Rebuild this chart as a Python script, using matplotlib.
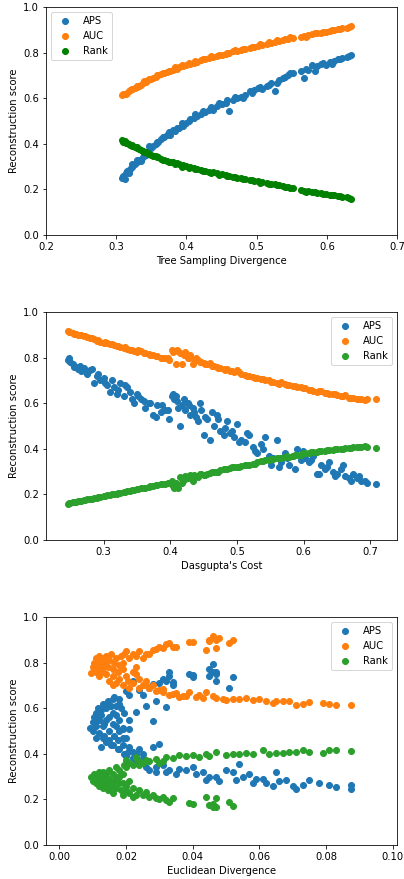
import matplotlib
matplotlib.use("Agg")
import matplotlib.pyplot as plt

# ---- panel 1: Tree Sampling Divergence ----
tsd = [0.308, 0.310, 0.312, 0.315, 0.318, 0.320, 0.323, 0.326, 0.329, 0.332, 0.335,
       0.338, 0.342, 0.345, 0.349, 0.352, 0.356, 0.360, 0.364, 0.368, 0.372, 0.377,
       0.381, 0.386, 0.390, 0.395, 0.400, 0.405, 0.410, 0.415, 0.421, 0.426, 0.432,
       0.438, 0.444, 0.450, 0.456, 0.460, 0.466, 0.472, 0.478, 0.484, 0.490, 0.496,
       0.502, 0.508, 0.514, 0.520, 0.526, 0.532, 0.538, 0.545, 0.551, 0.563, 0.567,
       0.573, 0.579, 0.586, 0.592, 0.598, 0.604, 0.610, 0.616, 0.622, 0.628, 0.634,
       0.314, 0.322, 0.330, 0.340, 0.347, 0.358, 0.366, 0.375, 0.384, 0.393,
       0.403, 0.412, 0.424, 0.435, 0.447, 0.458, 0.469, 0.481, 0.493, 0.505,
       0.517, 0.529, 0.541, 0.548, 0.570, 0.583, 0.595, 0.607, 0.619, 0.631]
tsd_aps = [0.25, 0.26, 0.245, 0.28, 0.27, 0.29, 0.30, 0.31, 0.32, 0.33, 0.325,
           0.34, 0.35, 0.37, 0.38, 0.39, 0.40, 0.41, 0.42, 0.43, 0.44, 0.44,
           0.46, 0.47, 0.47, 0.48, 0.49, 0.51, 0.515, 0.52, 0.53, 0.54, 0.55,
           0.55, 0.565, 0.575, 0.58, 0.545, 0.59, 0.60, 0.605, 0.615, 0.63, 0.635,
           0.645, 0.64, 0.655, 0.665, 0.63, 0.68, 0.69, 0.70, 0.71, 0.72, 0.69,
           0.725, 0.745, 0.74, 0.75, 0.745, 0.76, 0.765, 0.77, 0.775, 0.78, 0.79,
           0.27, 0.31, 0.33, 0.36, 0.39, 0.41, 0.43, 0.45, 0.455, 0.49,
           0.50, 0.53, 0.545, 0.56, 0.58, 0.59, 0.605, 0.60, 0.625, 0.65,
           0.66, 0.665, 0.695, 0.71, 0.73, 0.72, 0.755, 0.75, 0.77, 0.785]
tsd_auc = [0.615, 0.62, 0.618, 0.625, 0.63, 0.635, 0.64, 0.645, 0.65, 0.655, 0.66,
           0.665, 0.672, 0.678, 0.683, 0.688, 0.693, 0.70, 0.705, 0.71, 0.716, 0.72,
           0.725, 0.73, 0.738, 0.742, 0.746, 0.75, 0.755, 0.76, 0.766, 0.77, 0.776,
           0.78, 0.785, 0.79, 0.795, 0.80, 0.805, 0.808, 0.812, 0.818, 0.822, 0.826,
           0.83, 0.835, 0.838, 0.842, 0.846, 0.85, 0.855, 0.858, 0.862, 0.868, 0.872,
           0.876, 0.88, 0.884, 0.888, 0.892, 0.896, 0.90, 0.903, 0.906, 0.91, 0.915,
           0.62, 0.64, 0.655, 0.675, 0.685, 0.70, 0.71, 0.72, 0.735, 0.745,
           0.755, 0.765, 0.77, 0.785, 0.79, 0.80, 0.81, 0.815, 0.825, 0.84,
           0.845, 0.855, 0.86, 0.87, 0.87, 0.885, 0.89, 0.90, 0.905, 0.912]
tsd_rank = [0.415, 0.41, 0.412, 0.405, 0.40, 0.395, 0.39, 0.385, 0.38, 0.378, 0.372,
            0.368, 0.362, 0.358, 0.352, 0.348, 0.345, 0.34, 0.335, 0.33, 0.325, 0.322,
            0.318, 0.314, 0.31, 0.306, 0.302, 0.298, 0.295, 0.29, 0.286, 0.282, 0.278,
            0.275, 0.27, 0.266, 0.262, 0.26, 0.256, 0.252, 0.25, 0.246, 0.242, 0.238,
            0.235, 0.232, 0.228, 0.225, 0.222, 0.218, 0.215, 0.21, 0.205, 0.198, 0.195,
            0.192, 0.19, 0.186, 0.183, 0.18, 0.177, 0.174, 0.171, 0.168, 0.165, 0.16,
            0.405, 0.395, 0.385, 0.365, 0.355, 0.34, 0.33, 0.32, 0.31, 0.30,
            0.296, 0.29, 0.28, 0.272, 0.264, 0.258, 0.254, 0.245, 0.24, 0.23,
            0.225, 0.22, 0.212, 0.208, 0.19, 0.187, 0.18, 0.175, 0.17, 0.162]

# ---- panel 2: Dasgupta's Cost ----
dasg = [0.246, 0.250, 0.254, 0.258, 0.262, 0.266, 0.270, 0.275, 0.280, 0.285, 0.290,
        0.295, 0.300, 0.305, 0.310, 0.315, 0.320, 0.325, 0.330, 0.335, 0.340, 0.345,
        0.350, 0.356, 0.362, 0.368, 0.374, 0.380, 0.386, 0.392, 0.398, 0.402, 0.406,
        0.410, 0.414, 0.418, 0.422, 0.426, 0.430, 0.434, 0.438, 0.442, 0.446, 0.450,
        0.455, 0.460, 0.465, 0.470, 0.475, 0.480, 0.485, 0.490, 0.495, 0.500, 0.506,
        0.512, 0.518, 0.524, 0.530, 0.536, 0.542, 0.548, 0.554, 0.560, 0.566, 0.572,
        0.578, 0.584, 0.590, 0.596, 0.602, 0.608, 0.614, 0.620, 0.626, 0.632, 0.638,
        0.644, 0.650, 0.656, 0.662, 0.668, 0.674, 0.680, 0.686, 0.692, 0.708,
        0.248, 0.256, 0.264, 0.272, 0.282, 0.292, 0.302, 0.312, 0.322, 0.332,
        0.342, 0.352, 0.360, 0.370, 0.378, 0.388, 0.396, 0.404, 0.408, 0.412,
        0.420, 0.428, 0.436, 0.444, 0.452, 0.462, 0.472, 0.482, 0.492, 0.503,
        0.515, 0.527, 0.539, 0.551, 0.563, 0.575, 0.587, 0.599, 0.611, 0.623,
        0.635, 0.647, 0.659, 0.671, 0.683, 0.695]
dasg_aps = [0.79, 0.78, 0.77, 0.76, 0.75, 0.74, 0.755, 0.73, 0.745, 0.69, 0.72,
            0.70, 0.71, 0.68, 0.65, 0.67, 0.64, 0.69, 0.63, 0.67, 0.65, 0.60,
            0.64, 0.62, 0.58, 0.60, 0.55, 0.59, 0.56, 0.57, 0.53, 0.63, 0.62,
            0.61, 0.50, 0.59, 0.57, 0.60, 0.55, 0.58, 0.54, 0.52, 0.57, 0.46,
            0.53, 0.44, 0.50, 0.55, 0.48, 0.46, 0.52, 0.47, 0.45, 0.51, 0.44,
            0.43, 0.46, 0.41, 0.38, 0.42, 0.45, 0.37, 0.36, 0.44, 0.34, 0.38,
            0.33, 0.37, 0.40, 0.35, 0.36, 0.34, 0.37, 0.29, 0.33, 0.31, 0.34,
            0.30, 0.29, 0.31, 0.28, 0.27, 0.29, 0.27, 0.26, 0.26, 0.245,
            0.80, 0.76, 0.765, 0.74, 0.75, 0.73, 0.69, 0.70, 0.66, 0.68,
            0.62, 0.63, 0.61, 0.60, 0.54, 0.59, 0.57, 0.64, 0.63, 0.58,
            0.62, 0.59, 0.56, 0.60, 0.54, 0.56, 0.53, 0.49, 0.48, 0.43,
            0.47, 0.39, 0.40, 0.33, 0.32, 0.36, 0.31, 0.39, 0.35, 0.29,
            0.32, 0.28, 0.33, 0.26, 0.28, 0.25]
dasg_auc = [0.915, 0.912, 0.91, 0.905, 0.90, 0.90, 0.895, 0.89, 0.885, 0.88, 0.875,
            0.87, 0.865, 0.862, 0.86, 0.855, 0.85, 0.847, 0.842, 0.838, 0.835, 0.83,
            0.825, 0.83, 0.82, 0.815, 0.81, 0.805, 0.80, 0.80, 0.79, 0.835, 0.83,
            0.835, 0.82, 0.77, 0.825, 0.80, 0.81, 0.77, 0.80, 0.79, 0.78, 0.775,
            0.77, 0.775, 0.765, 0.76, 0.755, 0.75, 0.75, 0.74, 0.735, 0.745, 0.73,
            0.725, 0.72, 0.715, 0.71, 0.705, 0.70, 0.70, 0.695, 0.69, 0.695, 0.685,
            0.68, 0.675, 0.67, 0.67, 0.665, 0.66, 0.655, 0.65, 0.655, 0.645, 0.64,
            0.64, 0.635, 0.63, 0.635, 0.625, 0.625, 0.62, 0.62, 0.615, 0.617,
            0.912, 0.905, 0.90, 0.895, 0.888, 0.878, 0.868, 0.86, 0.852, 0.845,
            0.835, 0.832, 0.822, 0.812, 0.808, 0.80, 0.797, 0.825, 0.77, 0.83,
            0.81, 0.80, 0.795, 0.78, 0.77, 0.765, 0.755, 0.745, 0.74, 0.735,
            0.72, 0.71, 0.705, 0.695, 0.685, 0.68, 0.675, 0.665, 0.66, 0.655,
            0.645, 0.64, 0.63, 0.625, 0.62, 0.62]
dasg_rank = [0.16, 0.162, 0.165, 0.168, 0.17, 0.172, 0.175, 0.178, 0.18, 0.183, 0.186,
             0.19, 0.192, 0.196, 0.198, 0.20, 0.203, 0.206, 0.21, 0.213, 0.216, 0.22,
             0.222, 0.226, 0.23, 0.233, 0.236, 0.24, 0.244, 0.247, 0.25, 0.26, 0.23,
             0.24, 0.275, 0.25, 0.28, 0.27, 0.285, 0.26, 0.28, 0.275, 0.29, 0.285,
             0.29, 0.295, 0.30, 0.298, 0.305, 0.31, 0.312, 0.315, 0.318, 0.32, 0.325,
             0.328, 0.33, 0.335, 0.34, 0.345, 0.35, 0.35, 0.355, 0.36, 0.36, 0.365,
             0.365, 0.37, 0.375, 0.372, 0.38, 0.383, 0.385, 0.388, 0.39, 0.392, 0.395,
             0.395, 0.40, 0.398, 0.403, 0.405, 0.408, 0.41, 0.41, 0.412, 0.405,
             0.161, 0.166, 0.17, 0.176, 0.18, 0.188, 0.194, 0.20, 0.206, 0.212,
             0.218, 0.224, 0.23, 0.235, 0.24, 0.245, 0.25, 0.235, 0.25, 0.23,
             0.265, 0.28, 0.285, 0.29, 0.285, 0.30, 0.30, 0.31, 0.318, 0.322,
             0.33, 0.335, 0.345, 0.355, 0.36, 0.37, 0.375, 0.38, 0.385, 0.39,
             0.395, 0.40, 0.40, 0.405, 0.41, 0.41]

# ---- panel 3: Euclidean Divergence ----
euc_aps_x = [0.0092, 0.010, 0.0105, 0.011, 0.011, 0.0115, 0.012, 0.012, 0.0125, 0.013,
             0.013, 0.0135, 0.014, 0.014, 0.0145, 0.015, 0.015, 0.0155, 0.016, 0.016,
             0.0165, 0.017, 0.017, 0.0175, 0.018, 0.018, 0.0185, 0.019, 0.019, 0.0195,
             0.020, 0.020, 0.021, 0.021, 0.022, 0.022, 0.023, 0.0125, 0.0165, 0.011,
             0.015, 0.018, 0.0195, 0.021, 0.024, 0.025, 0.024,
             0.020, 0.022, 0.024, 0.028, 0.031, 0.033, 0.034, 0.032, 0.029, 0.026,
             0.023, 0.028, 0.019, 0.039, 0.040, 0.045, 0.046, 0.047, 0.047, 0.051, 0.052,
             0.025, 0.030, 0.028, 0.029, 0.032, 0.036, 0.040, 0.043, 0.044, 0.047,
             0.050, 0.053, 0.054, 0.057, 0.059, 0.062, 0.065, 0.068, 0.071, 0.073,
             0.075, 0.078, 0.081, 0.083, 0.0875, 0.0875]
euc_aps = [0.515, 0.54, 0.56, 0.58, 0.52, 0.60, 0.55, 0.49, 0.57, 0.62,
           0.47, 0.53, 0.60, 0.45, 0.63, 0.56, 0.50, 0.44, 0.64, 0.58,
           0.48, 0.61, 0.52, 0.46, 0.55, 0.42, 0.60, 0.44, 0.51, 0.40,
           0.47, 0.39, 0.43, 0.55, 0.38, 0.41, 0.37, 0.43, 0.65, 0.47,
           0.61, 0.64, 0.58, 0.51, 0.42, 0.40, 0.36,
           0.677, 0.72, 0.68, 0.706, 0.728, 0.757, 0.713, 0.604, 0.633, 0.611,
           0.582, 0.546, 0.514, 0.75, 0.735, 0.771, 0.793, 0.757, 0.72, 0.69, 0.738,
           0.38, 0.444, 0.43, 0.342, 0.32, 0.335, 0.342, 0.32, 0.284, 0.298,
           0.328, 0.284, 0.357, 0.313, 0.291, 0.27, 0.32, 0.284, 0.247, 0.262,
           0.284, 0.272, 0.262, 0.255, 0.262, 0.247]
euc_aps_x2 = [0.010, 0.0115, 0.0125, 0.0135, 0.014, 0.0155, 0.016, 0.017, 0.0175, 0.019,
              0.0205, 0.015, 0.013, 0.016, 0.018, 0.023, 0.026, 0.027, 0.029, 0.031,
              0.033, 0.035, 0.038, 0.041, 0.045, 0.048, 0.052, 0.055, 0.058, 0.061,
              0.064, 0.066, 0.070, 0.025, 0.027, 0.030, 0.032, 0.033, 0.034, 0.040,
              0.046, 0.045, 0.047, 0.021, 0.018]
euc_aps2 = [0.50, 0.55, 0.59, 0.48, 0.55, 0.61, 0.53, 0.57, 0.42, 0.47,
            0.41, 0.46, 0.52, 0.44, 0.50, 0.40, 0.34, 0.33, 0.32, 0.35,
            0.33, 0.31, 0.33, 0.31, 0.30, 0.28, 0.32, 0.30, 0.27, 0.29,
            0.26, 0.28, 0.26, 0.66, 0.69, 0.71, 0.72, 0.74, 0.70, 0.745,
            0.76, 0.74, 0.75, 0.66, 0.62]

euc_auc_x = [0.0095, 0.010, 0.0105, 0.011, 0.011, 0.0115, 0.012, 0.012, 0.0125, 0.013,
             0.013, 0.0135, 0.014, 0.014, 0.0145, 0.015, 0.015, 0.0155, 0.016, 0.016,
             0.0165, 0.017, 0.017, 0.0175, 0.018, 0.018, 0.0185, 0.019, 0.019, 0.0195,
             0.020, 0.020, 0.0205, 0.021, 0.021, 0.022, 0.022, 0.023, 0.023, 0.024,
             0.024, 0.025, 0.025, 0.012, 0.016,
             0.027, 0.029, 0.032, 0.034, 0.039, 0.040, 0.044, 0.045, 0.046, 0.048,
             0.047, 0.051, 0.052,
             0.026, 0.029, 0.031, 0.034, 0.037, 0.039, 0.044, 0.047, 0.052, 0.056,
             0.058, 0.062, 0.065, 0.069, 0.073, 0.075, 0.079, 0.081, 0.083, 0.0875]
euc_auc = [0.755, 0.78, 0.80, 0.76, 0.79, 0.81, 0.77, 0.74, 0.80, 0.82,
           0.76, 0.79, 0.83, 0.75, 0.78, 0.81, 0.72, 0.84, 0.77, 0.74,
           0.80, 0.82, 0.71, 0.76, 0.79, 0.73, 0.83, 0.70, 0.77, 0.84,
           0.74, 0.85, 0.72, 0.82, 0.69, 0.84, 0.71, 0.75, 0.83, 0.69,
           0.73, 0.70, 0.82, 0.83, 0.70,
           0.84, 0.86, 0.88, 0.87, 0.89, 0.89, 0.855, 0.90, 0.917, 0.91,
           0.863, 0.884, 0.90,
           0.70, 0.677, 0.684, 0.662, 0.655, 0.67, 0.67, 0.645, 0.64, 0.645,
           0.636, 0.633, 0.633, 0.633, 0.62, 0.626, 0.622, 0.62, 0.616, 0.616]
euc_auc_x2 = [0.026, 0.027, 0.028, 0.030, 0.031, 0.033, 0.035, 0.036, 0.038, 0.041,
              0.042, 0.043, 0.046, 0.049, 0.050, 0.054, 0.060, 0.064, 0.067, 0.071,
              0.022, 0.023, 0.019, 0.014, 0.013, 0.011, 0.028, 0.030, 0.031, 0.033,
              0.035, 0.045, 0.047, 0.026, 0.024]
euc_auc2 = [0.72, 0.69, 0.70, 0.68, 0.67, 0.66, 0.665, 0.65, 0.655, 0.65,
            0.66, 0.645, 0.655, 0.64, 0.635, 0.64, 0.64, 0.625, 0.63, 0.615,
            0.76, 0.78, 0.80, 0.80, 0.78, 0.82, 0.855, 0.87, 0.865, 0.885,
            0.87, 0.895, 0.90, 0.84, 0.85]

euc_rank_x = [0.0095, 0.010, 0.0105, 0.011, 0.011, 0.0115, 0.012, 0.012, 0.0125, 0.013,
              0.013, 0.0135, 0.014, 0.014, 0.0145, 0.015, 0.015, 0.0155, 0.016, 0.016,
              0.0165, 0.017, 0.017, 0.0175, 0.018, 0.018, 0.0185, 0.019, 0.019, 0.0195,
              0.020, 0.020, 0.021, 0.021, 0.022, 0.022, 0.023, 0.023, 0.024, 0.024,
              0.022, 0.026, 0.028, 0.032, 0.034, 0.039, 0.044, 0.045, 0.046, 0.047,
              0.051, 0.052,
              0.020, 0.023, 0.026, 0.029, 0.032, 0.036, 0.040, 0.044, 0.047, 0.052,
              0.056, 0.061, 0.065, 0.069, 0.073, 0.075, 0.079, 0.081, 0.083, 0.0875]
euc_rank = [0.30, 0.28, 0.31, 0.27, 0.29, 0.31, 0.26, 0.30, 0.28, 0.32,
            0.25, 0.29, 0.31, 0.27, 0.24, 0.33, 0.29, 0.26, 0.31, 0.23,
            0.28, 0.34, 0.25, 0.30, 0.27, 0.33, 0.24, 0.31, 0.22, 0.35,
            0.26, 0.34, 0.23, 0.36, 0.25, 0.35, 0.22, 0.38, 0.24, 0.37,
            0.21, 0.233, 0.218, 0.197, 0.204, 0.182, 0.211, 0.175, 0.167, 0.204,
            0.19, 0.17,
            0.371, 0.386, 0.371, 0.378, 0.386, 0.393, 0.393, 0.40, 0.408, 0.40,
            0.403, 0.415, 0.405, 0.408, 0.418, 0.408, 0.403, 0.415, 0.418, 0.412]
euc_rank_x2 = [0.010, 0.012, 0.013, 0.0145, 0.016, 0.017, 0.018, 0.019, 0.020, 0.021,
               0.015, 0.013, 0.024, 0.025, 0.027, 0.030, 0.031, 0.034, 0.038, 0.042,
               0.045, 0.050, 0.054, 0.058, 0.063, 0.067, 0.071, 0.025, 0.027, 0.029,
               0.030, 0.031, 0.033, 0.040, 0.046, 0.047]
euc_rank2 = [0.30, 0.32, 0.30, 0.28, 0.26, 0.29, 0.30, 0.27, 0.24, 0.28,
             0.25, 0.27, 0.35, 0.36, 0.37, 0.36, 0.37, 0.38, 0.39, 0.385,
             0.39, 0.395, 0.40, 0.40, 0.40, 0.405, 0.41, 0.22, 0.21, 0.205,
             0.20, 0.21, 0.19, 0.18, 0.18, 0.165]

fig, axes = plt.subplots(3, 1, figsize=(404 / 72, 879 / 72), dpi=72)
fig.subplots_adjust(left=0.114, right=0.983, top=0.992, bottom=0.0387, hspace=0.338)

ax = axes[0]
ax.scatter(tsd, tsd_aps, label="APS")
ax.scatter(tsd, tsd_auc, label="AUC")
ax.scatter(tsd, tsd_rank, color="green", label="Rank")
ax.set_xlim(0.2, 0.7)
ax.set_ylim(0, 1)
ax.set_xlabel("Tree Sampling Divergence")
ax.set_ylabel("Reconstruction score")
ax.legend(loc="upper left")

ax = axes[1]
ax.scatter(dasg, dasg_aps, label="APS")
ax.scatter(dasg, dasg_auc, label="AUC")
ax.scatter(dasg, dasg_rank, label="Rank")
ax.set_xlim(0.2135, 0.740)
ax.set_ylim(0, 1)
ax.set_xlabel("Dasgupta's Cost")
ax.set_ylabel("Reconstruction score")
ax.legend(loc="upper right")

ax = axes[2]
ax.scatter(euc_aps_x + euc_aps_x2, euc_aps + euc_aps2, label="APS")
ax.scatter(euc_auc_x + euc_auc_x2, euc_auc + euc_auc2, label="AUC")
ax.scatter(euc_rank_x + euc_rank_x2, euc_rank + euc_rank2, label="Rank")
ax.set_xlim(-0.004, 0.1013)
ax.set_ylim(0, 1)
ax.set_xlabel("Euclidean Divergence")
ax.set_ylabel("Reconstruction score")
ax.legend(loc="upper right")

plt.savefig("out.png", dpi=72)
